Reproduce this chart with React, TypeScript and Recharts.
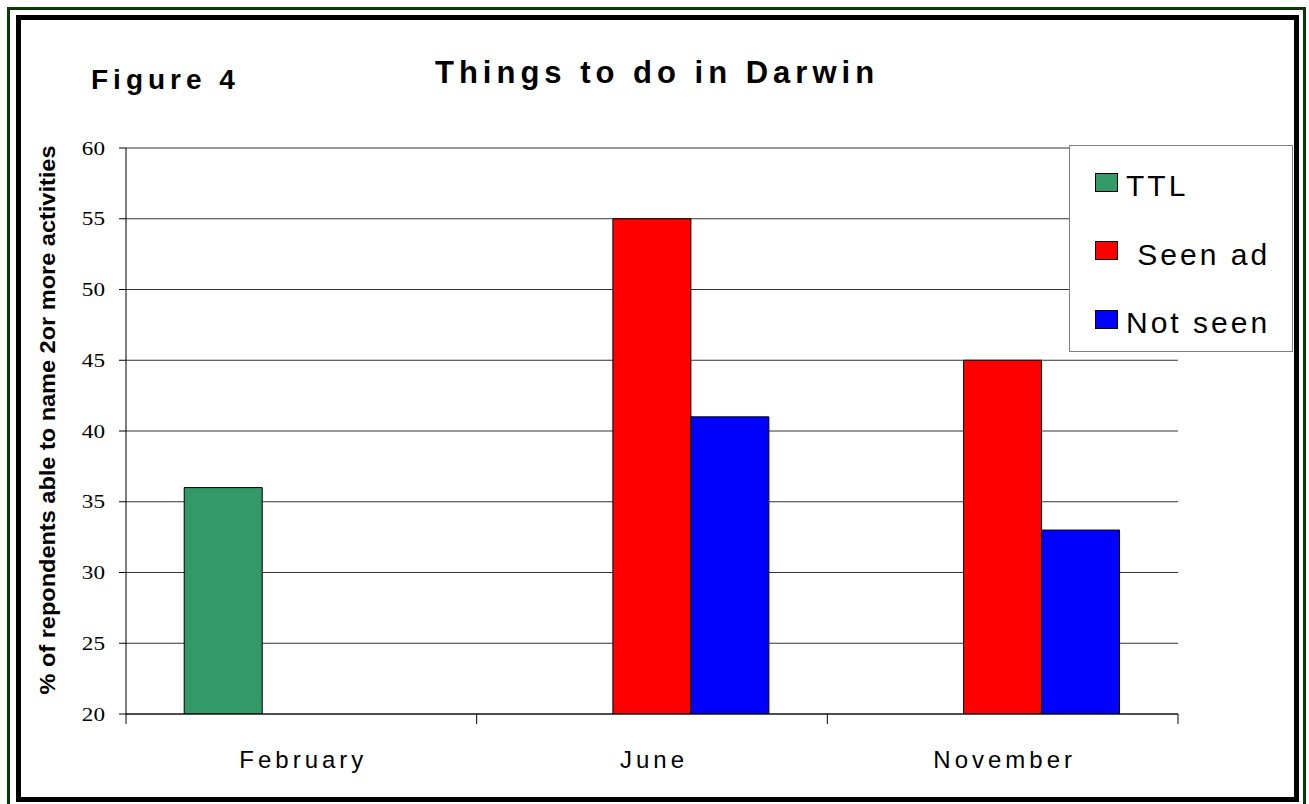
import { Bar, BarChart, CartesianGrid, XAxis, YAxis } from "recharts"

const months = ["February", "June", "November"]
const ttl = [36, null, null]
const seenAd = [null, 55, 45]
const notSeen = [null, 41, 33]
const yTicks = [20, 25, 30, 35, 40, 45, 50, 55, 60]

const series = [
  { key: "ttl", name: "TTL", color: "#339966" },
  { key: "seenAd", name: " Seen ad", color: "#FF0000" },
  { key: "notSeen", name: "Not seen", color: "#0000FF" },
]

const data = months.map((month, i) => ({
  month,
  ttl: ttl[i],
  seenAd: seenAd[i],
  notSeen: notSeen[i],
}))

const SANS = "'Liberation Sans', Arial, sans-serif"
const SERIF = "'Liberation Serif', 'Times New Roman', serif"

function MonthTick({ x, y, payload, index, visibleTicksCount }: any) {
  const half = payload?.offset ?? 0
  const last = index === visibleTicksCount - 1
  return (
    <g>
      <line x1={x - half} x2={x - half} y1={y} y2={y + 10} stroke="#000" />
      {last && <line x1={x + half} x2={x + half} y1={y} y2={y + 10} stroke="#000" />}
      <text
        x={x + 2}
        y={y + 54}
        textAnchor="middle"
        fontFamily={SANS}
        fontSize={24}
        letterSpacing={4}
        fill="#000"
      >
        {payload.value}
      </text>
    </g>
  )
}

// serif labels in the original are drawn a little wider than normal
function ValueTick({ x, y, payload }: any) {
  return (
    <text
      transform={`translate(${x} ${y}) scale(1.22 1)`}
      textAnchor="end"
      dy="0.35em"
      fontFamily={SERIF}
      fontSize={19}
      fill="#000"
    >
      {payload.value}
    </text>
  )
}

function ChartLegend() {
  return (
    <div
      style={{
        position: "absolute",
        left: 1069,
        top: 145,
        width: 222,
        height: 205,
        border: "1px solid #808080",
        background: "#fff",
      }}
    >
      {series.map((s, i) => (
        <div
          key={s.key}
          style={{
            position: "absolute",
            left: 25,
            top: 16 + i * 68.5,
            display: "flex",
            alignItems: "center",
            height: 40,
          }}
        >
          <div
            style={{
              width: 21,
              height: 17,
              background: s.color,
              border: "1px solid #000",
              marginRight: 8,
            }}
          />
          <span
            style={{
              fontFamily: SANS,
              fontSize: 30,
              letterSpacing: 3,
              whiteSpace: "pre",
              lineHeight: "40px",
              color: "#000",
              marginTop: 8,
            }}
          >
            {s.name}
          </span>
        </div>
      ))}
    </div>
  )
}

export default function App() {
  return (
    <div
      style={{
        position: "absolute",
        left: 0,
        top: 0,
        width: 1309,
        height: 804,
        background: "#fff",
        overflow: "hidden",
      }}
    >
      {/* double frame */}
      <div
        style={{
          position: "absolute",
          left: 7,
          top: 7,
          width: 1293,
          height: 800,
          border: "3px solid #0a3a0a",
        }}
      />
      <div
        style={{
          position: "absolute",
          left: 16,
          top: 15,
          width: 1273,
          height: 777,
          border: "5px solid #000",
        }}
      />

      <div style={{ position: "absolute", left: 0, top: 0 }}>
        <BarChart
          width={1309}
          height={804}
          data={data}
          margin={{ top: 148, right: 131, bottom: 0, left: 26 }}
          barGap={0}
          barCategoryGap="16.6%"
        >
          <CartesianGrid vertical={false} stroke="#333" />
          <XAxis
            dataKey="month"
            height={90}
            axisLine={{ stroke: "#000" }}
            tickLine={false}
            tickSize={0}
            tickMargin={0}
            tick={<MonthTick />}
            interval={0}
          />
          <XAxis
            xAxisId="top"
            orientation="top"
            dataKey="month"
            height={0}
            axisLine={{ stroke: "#808080" }}
            tick={false}
            tickLine={false}
          />
          <YAxis
            domain={[20, 60]}
            ticks={yTicks}
            allowDataOverflow
            width={100}
            axisLine={{ stroke: "#000" }}
            tickLine={{ stroke: "#000" }}
            tickSize={7}
            tickMargin={14}
            tick={<ValueTick />}
            interval={0}
          />
          <YAxis
            yAxisId="right"
            orientation="right"
            domain={[20, 60]}
            width={0}
            axisLine={{ stroke: "#808080" }}
            tick={false}
            tickLine={false}
          />
          {series.map((s) => (
            <Bar
              key={s.key}
              dataKey={s.key}
              name={s.name}
              fill={s.color}
              stroke="#000"
              strokeWidth={1}
              isAnimationActive={false}
            />
          ))}
        </BarChart>
      </div>

      <svg
        width={1309}
        height={804}
        style={{ position: "absolute", left: 0, top: 0, pointerEvents: "none" }}
      >
        <text x={91} y={89} fontFamily={SANS} fontWeight="bold" fontSize={28} letterSpacing={5} fill="#000">
          Figure 4
        </text>
        <text x={435} y={83} fontFamily={SANS} fontWeight="bold" fontSize={31} letterSpacing={5} fill="#000">
          Things to do in Darwin
        </text>
        <text
          x={0}
          y={0}
          transform="translate(55 420) rotate(-90) scale(1.07 1)"
          textAnchor="middle"
          fontFamily={SANS}
          fontWeight="bold"
          fontSize={22}
          fill="#000"
        >
          % of repondents able to name 2or more activities
        </text>
      </svg>

      <ChartLegend />
    </div>
  )
}
